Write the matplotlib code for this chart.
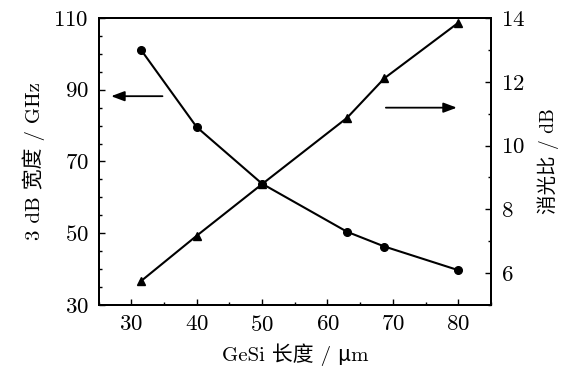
import matplotlib
matplotlib.use('Agg')
import matplotlib.pyplot as plt
from matplotlib.ticker import MultipleLocator

# Data
length_um = [31.5, 40, 50, 63, 68.7, 80]
bandwidth_ghz = [101.1, 79.6, 63.8, 50.4, 46.3, 39.7]
extinction_db = [5.75, 7.17, 8.79, 10.87, 12.11, 13.85]

x_ticks = [30, 40, 50, 60, 70, 80]
left_ticks = [30, 50, 70, 90, 110]
right_ticks = [6, 8, 10, 12, 14]

plt.rcParams['font.family'] = ['cmr10', 'Noto Sans CJK SC', 'DejaVu Serif']
plt.rcParams['mathtext.fontset'] = 'cm'
plt.rcParams['axes.formatter.use_mathtext'] = True
plt.rcParams['axes.unicode_minus'] = False

fig = plt.figure(figsize=(5.64, 3.67), dpi=100)
ax = fig.add_axes([0.1747, 0.169, 0.8706 - 0.1747, 0.951 - 0.169])
ax2 = ax.twinx()

# Plot data
ax.plot(length_um, bandwidth_ghz, color='black', lw=1.5, marker='o', ms=5.5)
ax2.plot(length_um, extinction_db, color='black', lw=1.5, marker='^', ms=6)

# Axes
ax.set_xlim(25, 85)
ax.set_ylim(30, 110)
ax2.set_ylim(5, 14)
ax.set_xticks(x_ticks)
ax.set_yticks(left_ticks)
ax2.set_yticks(right_ticks)
ax.xaxis.set_minor_locator(MultipleLocator(5))
ax.yaxis.set_minor_locator(MultipleLocator(5))
ax2.yaxis.set_minor_locator(MultipleLocator(1))

ax.tick_params(which='both', direction='in', labelsize=16.5, top=False, right=False, pad=7)
ax.tick_params(which='major', length=4, width=1)
ax.tick_params(which='minor', length=2.5, width=1)
ax2.tick_params(which='both', direction='in', labelsize=16.5, pad=7)
ax2.tick_params(which='major', length=4, width=1)
ax2.tick_params(which='minor', length=2.5, width=1)
for a in (ax, ax2):
    for s in a.spines.values():
        s.set_linewidth(1.4)

ax.set_xlabel('GeSi 长度 / μm', fontsize=15, labelpad=6)
ax.set_ylabel('3 dB 宽度 / GHz', fontsize=15, labelpad=6)
ax2.set_ylabel('消光比 / dB', fontsize=14, labelpad=9)

# Arrows pointing to the matching axis
arrow = dict(arrowstyle='-|>,head_length=0.8,head_width=0.3', color='black', lw=1.3)
ax.annotate('', xy=(0.025, 0.7275), xytext=(0.17, 0.7275),
            xycoords='axes fraction', arrowprops=arrow)
ax.annotate('', xy=(0.92, 0.6875), xytext=(0.725, 0.6875),
            xycoords='axes fraction', arrowprops=arrow)

plt.savefig('out.png', dpi=100)
